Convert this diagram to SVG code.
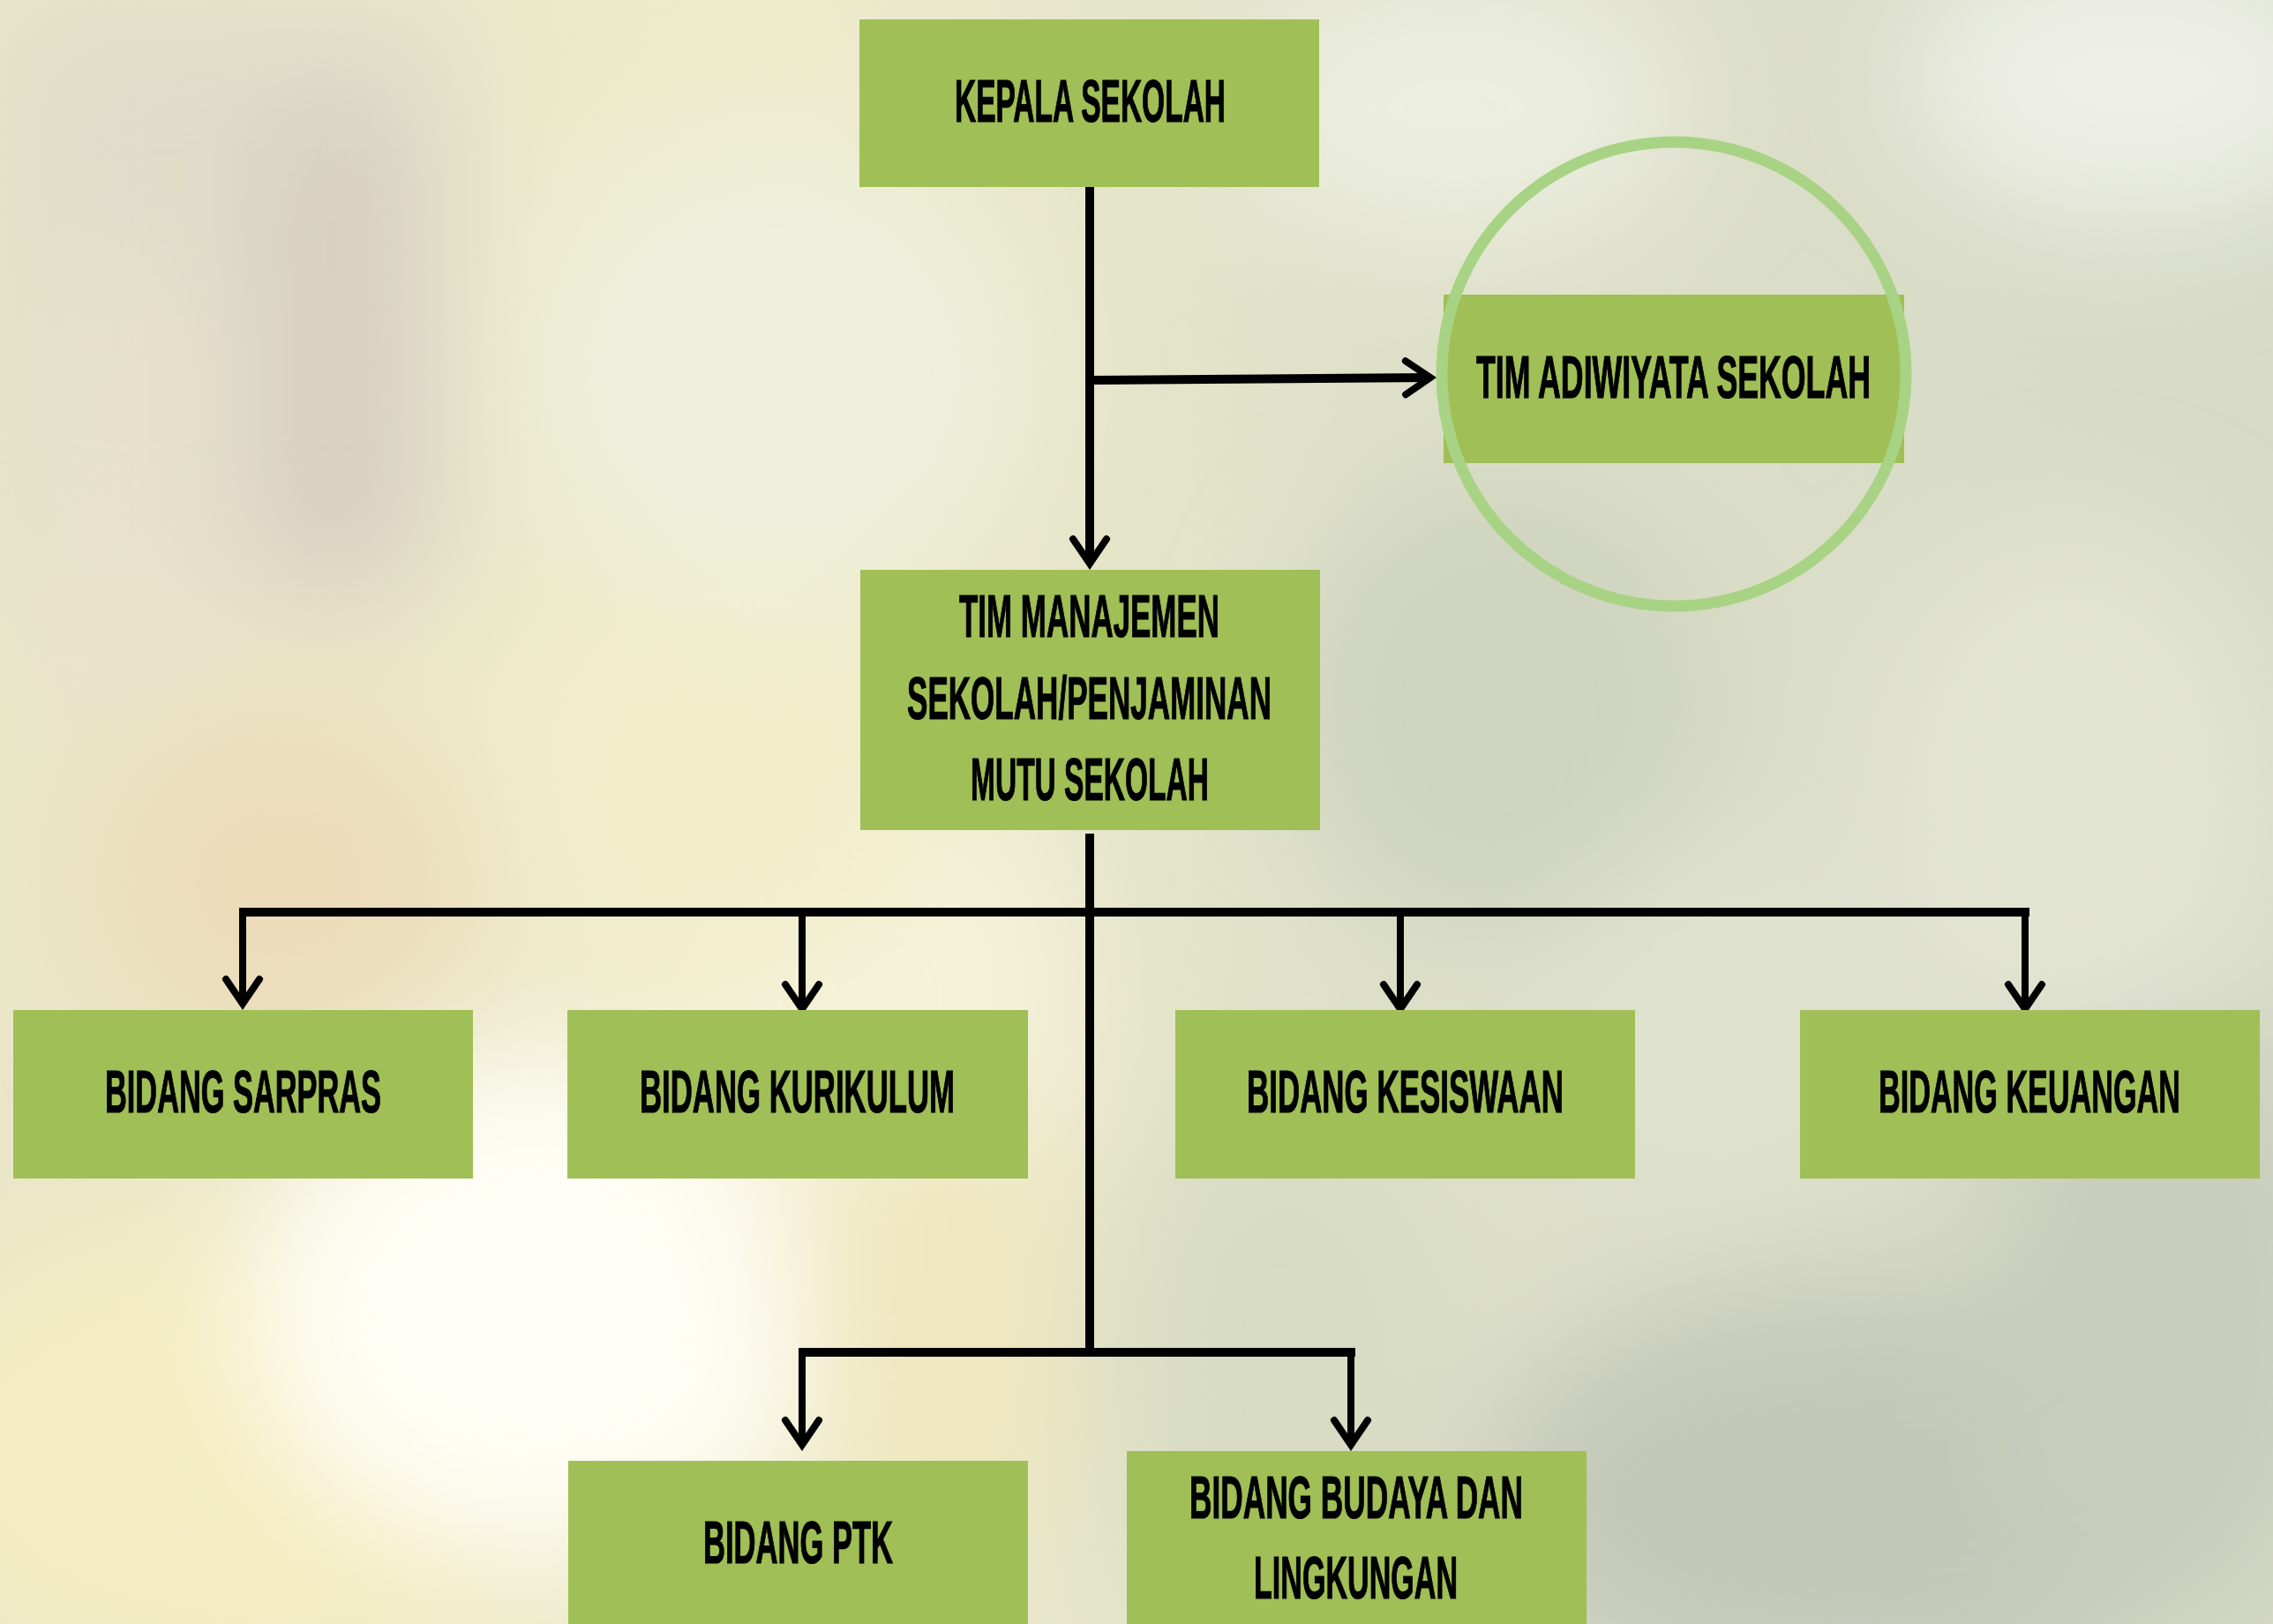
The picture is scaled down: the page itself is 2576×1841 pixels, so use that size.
<svg xmlns="http://www.w3.org/2000/svg" width="2576" height="1841" viewBox="0 0 2576 1841">
<defs>
<style>
.box{fill:#A0BF56}
.t{font-family:"Liberation Sans Narrow","Liberation Sans",Arial,sans-serif;font-weight:bold;font-size:69px;fill:#000;stroke:#000;stroke-width:1.2}
.ln{fill:none;stroke:#000;stroke-linecap:butt}
.main{stroke-width:10}
.drop{stroke-width:8}
</style>
<marker id="arr" viewBox="-40 -25 50 50" markerUnits="userSpaceOnUse" markerWidth="50" markerHeight="50" refX="0" refY="0" orient="auto">
<path d="M-28,-19 L0,0 L-28,19" fill="none" stroke="#000" stroke-width="8" stroke-linecap="round" stroke-linejoin="miter"/>
</marker>
<filter id="blur" x="-20%" y="-20%" width="140%" height="140%"><feGaussianBlur stdDeviation="70"/></filter>
<linearGradient id="bgbase" x1="0" y1="0" x2="1" y2="0">
<stop offset="0" stop-color="#E9E6C8"/>
<stop offset="0.35" stop-color="#EEEBCC"/>
<stop offset="0.6" stop-color="#DEE0C8"/>
<stop offset="1" stop-color="#D6DAC6"/>
</linearGradient>
</defs>
<g id="background">
<rect x="0" y="0" width="2576" height="1841" fill="url(#bgbase)"/>
<g filter="url(#blur)">
<rect x="0" y="0" width="520" height="650" fill="#DFDDC9"/>
<rect x="300" y="120" width="160" height="560" fill="#D6CDBF"/>
<rect x="60" y="300" width="180" height="500" fill="#E8E2CC"/>
<ellipse cx="320" cy="1000" rx="220" ry="200" fill="#ECDCBA"/>
<ellipse cx="250" cy="1650" rx="380" ry="260" fill="#F4EDC2"/>
<ellipse cx="620" cy="1480" rx="330" ry="280" fill="#FFFEF6"/>
<ellipse cx="1000" cy="1150" rx="220" ry="300" fill="#F5F2DA"/>
<ellipse cx="1060" cy="1500" rx="160" ry="260" fill="#EFE7C0"/>
<ellipse cx="880" cy="420" rx="280" ry="260" fill="#EEF0DC"/>
<ellipse cx="820" cy="900" rx="240" ry="220" fill="#F2EECC"/>
<ellipse cx="1450" cy="1550" rx="200" ry="300" fill="#D8DCC4"/>
<ellipse cx="2100" cy="1700" rx="420" ry="240" fill="#C3C8B8"/>
<ellipse cx="2450" cy="1500" rx="200" ry="350" fill="#C8CDBB"/>
<ellipse cx="2420" cy="90" rx="260" ry="160" fill="#EEF0E8"/>
<ellipse cx="1650" cy="120" rx="260" ry="160" fill="#ECEEDF"/>
<ellipse cx="1700" cy="800" rx="240" ry="260" fill="#CFD4C0"/>
<ellipse cx="2350" cy="900" rx="230" ry="300" fill="#E3E5D3"/>
<ellipse cx="1950" cy="1150" rx="200" ry="200" fill="#DFE2CD"/>
</g>
</g>
<g id="connectors">
<path class="ln main" d="M1235,212 V639" marker-end="url(#arr)"/>
<path class="ln main" d="M1235,431 L1621,428" marker-end="url(#arr)"/>
<path class="ln main" d="M1235,945 V1538"/>
<path class="ln main" d="M271,1034 H2300"/>
<path class="ln drop" d="M275,1030 V1138" marker-end="url(#arr)"/>
<path class="ln drop" d="M909,1034 V1144" marker-end="url(#arr)"/>
<path class="ln drop" d="M1587,1034 V1144" marker-end="url(#arr)"/>
<path class="ln drop" d="M2295,1030 V1144" marker-end="url(#arr)"/>
<path class="ln main" d="M905,1533 H1536"/>
<path class="ln drop" d="M909,1529 V1638" marker-end="url(#arr)"/>
<path class="ln drop" d="M1531,1529 V1638" marker-end="url(#arr)"/>
</g>
<g id="kepala-sekolah">
<rect class="box" x="974" y="22" width="521" height="190"/>
<text class="t" x="1082" y="138" textLength="307" lengthAdjust="spacingAndGlyphs">KEPALA SEKOLAH</text>
</g>
<g id="tim-adiwiyata">
<rect class="box" x="1636" y="334" width="522" height="191"/>
<circle cx="1897" cy="424" r="263" fill="none" stroke="#A8D384" stroke-width="13"/>
<text class="t" x="1673" y="451" textLength="447" lengthAdjust="spacingAndGlyphs">TIM ADIWIYATA SEKOLAH</text>
</g>
<g id="tim-manajemen">
<rect class="box" x="975" y="646" width="521" height="295"/>
<text class="t" x="1087" y="722" textLength="295" lengthAdjust="spacingAndGlyphs">TIM MANAJEMEN</text>
<text class="t" x="1028" y="815" textLength="413" lengthAdjust="spacingAndGlyphs">SEKOLAH/PENJAMINAN</text>
<text class="t" x="1100" y="907" textLength="270" lengthAdjust="spacingAndGlyphs">MUTU SEKOLAH</text>
</g>
<g id="bidang-sarpras">
<rect class="box" x="15" y="1145" width="521" height="191"/>
<text class="t" x="119" y="1261" textLength="313" lengthAdjust="spacingAndGlyphs">BIDANG SARPRAS</text>
</g>
<g id="bidang-kurikulum">
<rect class="box" x="643" y="1145" width="522" height="191"/>
<text class="t" x="725" y="1261" textLength="357" lengthAdjust="spacingAndGlyphs">BIDANG KURIKULUM</text>
</g>
<g id="bidang-kesiswaan">
<rect class="box" x="1332" y="1145" width="521" height="191"/>
<text class="t" x="1413" y="1261" textLength="359" lengthAdjust="spacingAndGlyphs">BIDANG KESISWAAN</text>
</g>
<g id="bidang-keuangan">
<rect class="box" x="2040" y="1145" width="521" height="191"/>
<text class="t" x="2129" y="1261" textLength="342" lengthAdjust="spacingAndGlyphs">BIDANG KEUANGAN</text>
</g>
<g id="bidang-ptk">
<rect class="box" x="644" y="1656" width="521" height="185"/>
<text class="t" x="797" y="1772" textLength="215" lengthAdjust="spacingAndGlyphs">BIDANG PTK</text>
</g>
<g id="bidang-budaya">
<rect class="box" x="1277" y="1645" width="521" height="196"/>
<text class="t" x="1348" y="1721" textLength="378" lengthAdjust="spacingAndGlyphs">BIDANG BUDAYA DAN</text>
<text class="t" x="1421" y="1812" textLength="231" lengthAdjust="spacingAndGlyphs">LINGKUNGAN</text>
</g>
</svg>
